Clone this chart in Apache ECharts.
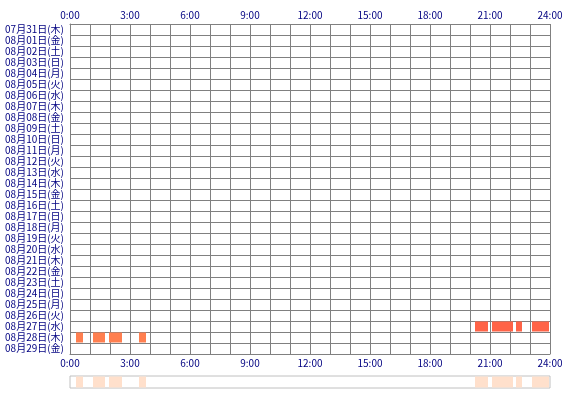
<!DOCTYPE html>
<html lang="ja">
<head>
<meta charset="UTF-8">
<title>sleep log</title>
<style>
  html, body { margin: 0; padding: 0; background: #fff; }
  #container { width: 570px; height: 400px; }
</style>
</head>
<body>
<div id="container"></div>
<script src="https://cdn.jsdelivr.net/npm/echarts@6/dist/echarts.min.js"></script>
<script>
// rows, top to bottom
var days = [
  '07月31日(木)', '08月01日(金)', '08月02日(土)', '08月03日(日)', '08月04日(月)',
  '08月05日(火)', '08月06日(水)', '08月07日(木)', '08月08日(金)', '08月09日(土)',
  '08月10日(日)', '08月11日(月)', '08月12日(火)', '08月13日(水)', '08月14日(木)',
  '08月15日(金)', '08月16日(土)', '08月17日(日)', '08月18日(月)', '08月19日(火)',
  '08月20日(水)', '08月21日(木)', '08月22日(金)', '08月23日(土)', '08月24日(日)',
  '08月25日(月)', '08月26日(火)', '08月27日(水)', '08月28日(木)', '08月29日(金)'
];
var hourLabels = ['0:00', '3:00', '6:00', '9:00', '12:00', '15:00', '18:00', '21:00', '24:00'];

// [start hour, end hour]
var sessions0827 = [[20.25, 20.9], [21.1, 22.15], [22.3, 22.6], [23.1, 23.95]];
var sessions0828 = [[0.3, 0.65], [1.15, 1.75], [1.95, 2.6], [3.45, 3.8]];

var dom = document.getElementById('container');
var myChart = echarts.init(dom);

function toItems(dayLabel, list) {
    var idx = days.indexOf(dayLabel);
    return list.map(function (s) { return [idx, s[0], s[1]]; });
}

function renderBlock(params, api) {
    var row = api.value(0);
    var a = api.coord([api.value(1), row]);
    var b = api.coord([api.value(2), row]);
    var h = api.size([0, 1])[1];
    return {
        type: 'rect',
        shape: { x: a[0], y: a[1] - h / 2 + 0.5, width: b[0] - a[0], height: h - 1 },
        style: api.style()
    };
}

var hourFormatter = function (v) {
    return v % 3 === 0 ? hourLabels[v / 3] : '';
};

var labelStyle = {
    show: true,
    color: '#000080',
    fontSize: 10,
    fontFamily: '"Noto Sans CJK JP", sans-serif',
    margin: 4,
    formatter: hourFormatter
};

var lineGray = { color: '#808080', width: 1 };

var stripItems = toItems('08月27日(水)', sessions0827).concat(toItems('08月28日(木)', sessions0828))
    .map(function (d) { return [0, d[1], d[2]]; });

var option = {
    animation: false,
    grid: [
        { left: 70, top: 24, width: 480, height: 330 },
        { left: 70, top: 376, width: 480, height: 12, show: true, borderColor: '#c0c0c0', borderWidth: 1, backgroundColor: '#fff' }
    ],
    xAxis: [
        {
            gridIndex: 0, type: 'value', position: 'top', min: 0, max: 24, interval: 1,
            axisLine: { show: true, lineStyle: lineGray },
            axisTick: { show: false },
            axisLabel: labelStyle,
            splitLine: { show: true, lineStyle: lineGray }
        },
        {
            gridIndex: 0, type: 'value', position: 'bottom', min: 0, max: 24, interval: 1,
            axisLine: { show: true, lineStyle: lineGray },
            axisTick: { show: false },
            axisLabel: labelStyle,
            splitLine: { show: false }
        },
        {
            gridIndex: 1, type: 'value', min: 0, max: 24, show: false
        }
    ],
    yAxis: [
        {
            gridIndex: 0, type: 'category', data: days, inverse: true,
            axisLine: { show: true, lineStyle: lineGray },
            axisTick: { show: false },
            axisLabel: {
                color: '#000080',
                fontSize: 10,
                fontFamily: '"Noto Sans CJK JP", sans-serif',
                margin: 6,
                interval: 0
            },
            splitLine: { show: true, interval: 0, lineStyle: lineGray }
        },
        {
            gridIndex: 1, type: 'category', data: ['all'], show: false
        }
    ],
    series: [
        {
            type: 'custom', xAxisIndex: 0, yAxisIndex: 0,
            renderItem: renderBlock,
            itemStyle: { color: '#ff6347' },
            encode: { x: [1, 2], y: 0 },
            data: toItems('08月27日(水)', sessions0827),
            z: 3
        },
        {
            type: 'custom', xAxisIndex: 0, yAxisIndex: 0,
            renderItem: renderBlock,
            itemStyle: { color: '#ff7f50' },
            encode: { x: [1, 2], y: 0 },
            data: toItems('08月28日(木)', sessions0828),
            z: 3
        },
        {
            type: 'custom', xAxisIndex: 2, yAxisIndex: 1,
            renderItem: renderBlock,
            itemStyle: { color: '#ffe0cc' },
            encode: { x: [1, 2], y: 0 },
            data: stripItems
        }
    ]
};

myChart.setOption(option, true);
</script>
</body>
</html>
